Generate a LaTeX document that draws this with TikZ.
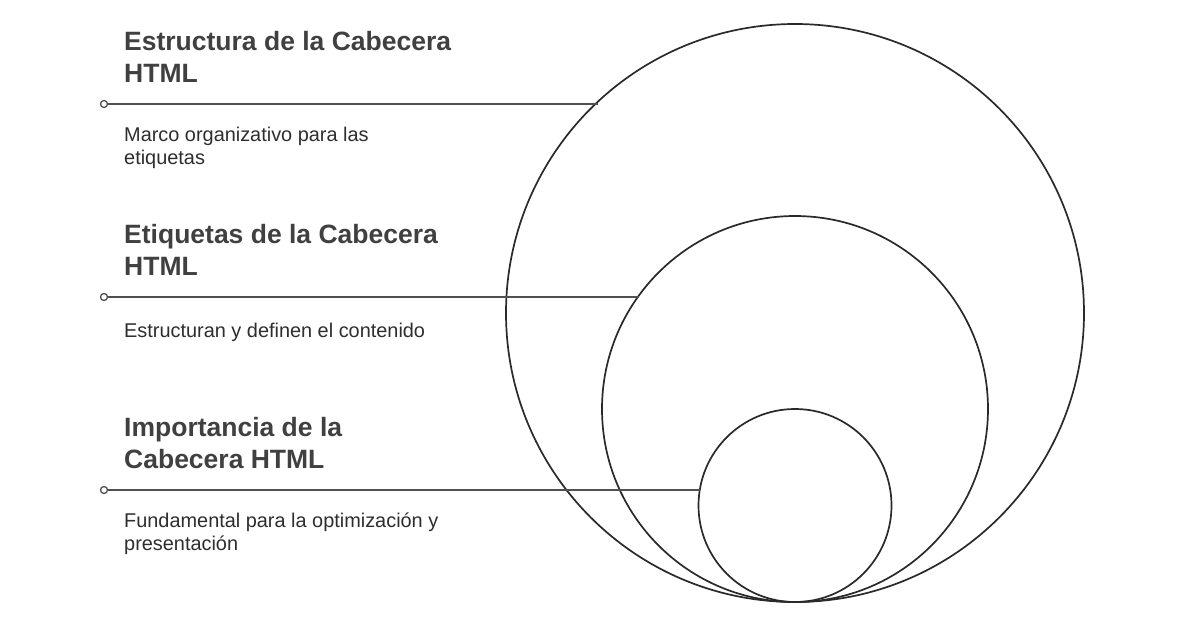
\documentclass[tikz,border=0pt]{standalone}
\usepackage{fontspec}
\setmainfont{Liberation Sans}
\definecolor{titlegray}{HTML}{404040}
\definecolor{textgray}{HTML}{2E2E2E}
\definecolor{linegray}{HTML}{505050}
\definecolor{ringgray}{HTML}{2A2A2A}
\begin{document}
\begin{tikzpicture}[x=1pt,y=-1pt,
    title/.style={anchor=base west,inner sep=0pt,align=left,text=titlegray,font=\fontsize{26.5}{32}\selectfont\bfseries},
    desc/.style={anchor=base west,inner sep=0pt,align=left,text=textgray,font=\fontsize{19.9}{23}\selectfont},
    ring/.style={circle,draw=ringgray,line width=1.7pt,inner sep=0pt,outer sep=0pt},
    dot/.style={circle,draw=linegray,fill=white,line width=1.3pt,minimum size=7pt,inner sep=0pt},
    lead/.style={draw=linegray,line width=1.6pt}]
    \useasboundingbox[fill=white] (0,0) rectangle (1200,630);

    \node[ring,minimum size=578pt] (big) at (795,313) {};
    \node[ring,minimum size=386pt] (mid) at (795,409) {};
    \node[ring,minimum size=193pt] (small) at (795,505.5) {};

    \node[title] (estructura) at (124,82) {Estructura de la Cabecera\\HTML};
    \node[title] (etiquetas) at (124,275) {Etiquetas de la Cabecera\\HTML};
    \node[title] (importancia) at (124,468) {Importancia de la\\Cabecera HTML};

    \node[desc] (marco) at (124,164) {Marco organizativo para las\\etiquetas};
    \node[desc] (estructuran) at (124,337) {Estructuran y definen el contenido};
    \node[desc] (fundamental) at (124,550) {Fundamental para la optimización y\\presentación};

    \node[dot] (dota) at (104,104) {};
    \node[dot] (dotb) at (104,297) {};
    \node[dot] (dotc) at (104,490) {};

    \draw[lead] (dota) -- (dota -| big.133.68);
    \draw[lead] (dotb) -- (dotb -| mid.144.53);
    \draw[lead] (dotc) -- (dotc -| small.170.76);
\end{tikzpicture}
\end{document}
